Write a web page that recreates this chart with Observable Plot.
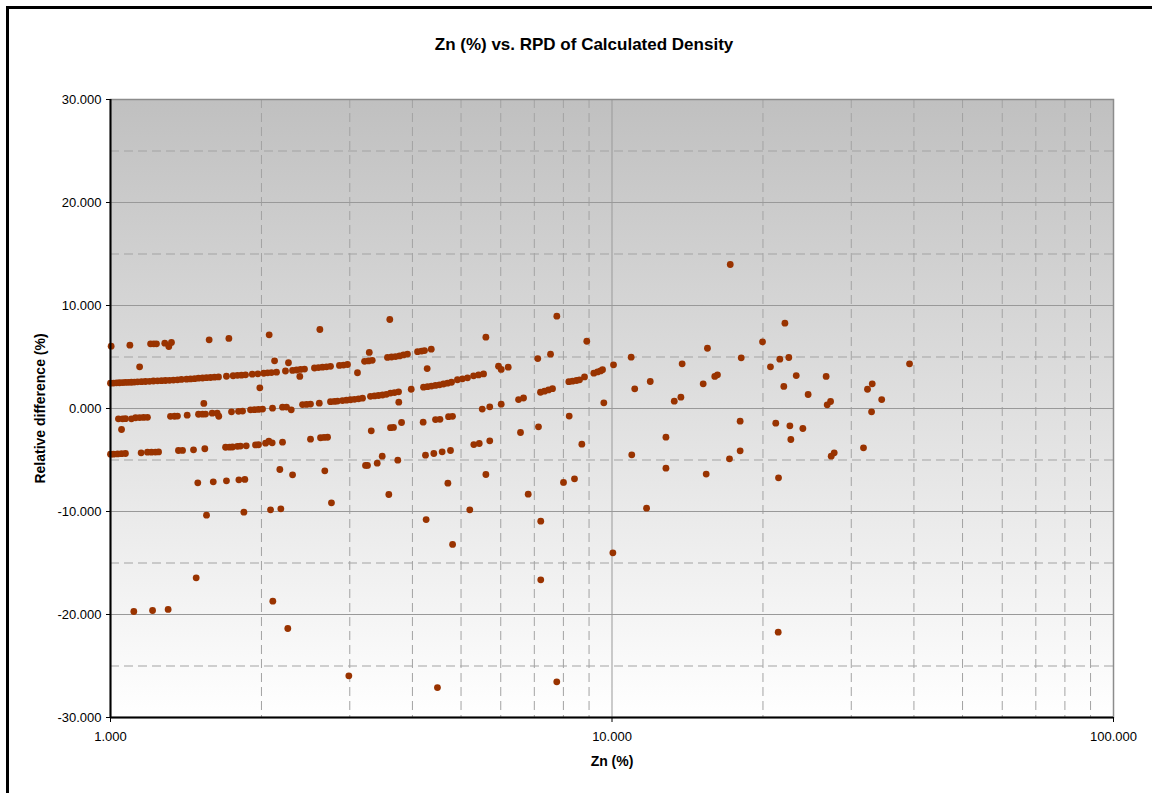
<!DOCTYPE html>
<html><head><meta charset="utf-8">
<script src="https://cdn.jsdelivr.net/npm/d3@7"></script>
<script src="https://cdn.jsdelivr.net/npm/@observablehq/plot@0.6"></script>
<style>
html,body{margin:0;padding:0;background:#fff;}
#wrap{position:relative;width:1152px;height:793px;overflow:hidden;background:#fff;}
#border{position:absolute;left:6px;top:6px;width:1250px;height:900px;border-left:3px solid #000;border-top:3px solid #000;}
#chart{position:absolute;left:0;top:0;}
</style></head><body>
<div id="wrap"><div id="border"></div><div id="chart"></div></div>
<script>
const titleText = "Zn (%) vs. RPD of Calculated Density";
const xLabel = "Zn (%)";
const yLabel = "Relative difference (%)";
const xTicks = [1, 10, 100];
const yTicks = [-30, -20, -10, 0, 10, 20, 30];
const xMinor = [2, 3, 4, 5, 6, 7, 8, 9, 20, 30, 40, 50, 60, 70, 80, 90];
const yMinor = [-25, -15, -5, 5, 15, 25];
const yMajorGrid = [-20, -10, 0, 10, 20];
const xMajorGrid = [10];

// [Zn %, RPD %]
const band1 = [[1.000,2.46],[1.014,2.47],[1.028,2.49],[1.042,2.50],[1.057,2.52],[1.071,2.53],[1.086,2.54],[1.101,2.55],[1.116,2.57],[1.132,2.59],[1.153,2.60],[1.174,2.62],[1.196,2.64],[1.218,2.67],[1.241,2.69],[1.264,2.70],[1.287,2.72],[1.311,2.74],[1.335,2.76],[1.360,2.78],[1.385,2.82],[1.418,2.85],[1.444,2.87],[1.471,2.90],[1.498,2.94],[1.526,2.96],[1.554,2.99],[1.583,3.01],[1.612,3.04],[1.642,3.07],[1.703,3.13],[1.756,3.18],[1.791,3.22],[1.825,3.24],[1.859,3.27],[1.917,3.33],[1.967,3.37],[2.021,3.42],[2.057,3.46],[2.094,3.49],[2.143,3.53],[2.233,3.64],[2.307,3.70],[2.350,3.74],[2.393,3.79],[2.437,3.83],[2.551,3.93],[2.598,3.97],[2.647,4.01],[2.696,4.05],[2.746,4.09],[2.861,4.18],[2.915,4.22],[2.969,4.27],[3.211,4.58],[3.270,4.62],[3.326,4.68],[3.567,4.96],[3.634,5.00],[3.701,5.04],[3.770,5.10],[3.839,5.20],[3.910,5.28],[4.095,5.52],[4.171,5.58],[4.228,5.62],[4.361,5.76]];

const band2 = [[1.037,-1.00],[1.057,-1.00],[1.071,-0.99],[1.101,-1.00],[1.122,-0.90],[1.143,-0.88],[1.164,-0.87],[1.185,-0.86],[1.317,-0.76],[1.342,-0.75],[1.360,-0.74],[1.422,-0.65],[1.498,-0.56],[1.526,-0.55],[1.547,-0.54],[1.595,-0.45],[1.632,-0.45],[1.644,-0.75],[1.743,-0.32],[1.800,-0.27],[1.834,-0.25],[1.902,-0.13],[1.937,-0.11],[1.973,-0.09],[2.010,-0.06],[2.104,0.03],[2.203,0.13],[2.244,0.14],[2.293,-0.13],[2.415,0.38],[2.460,0.40],[2.505,0.43],[2.608,0.52],[2.746,0.66],[2.797,0.69],[2.836,0.72],[2.901,0.77],[2.955,0.81],[3.010,0.85],[3.066,0.89],[3.123,0.94],[3.181,1.00],[3.299,1.18],[3.361,1.22],[3.423,1.26],[3.487,1.31],[3.550,1.38],[3.617,1.50],[3.684,1.55],[3.753,1.62],[3.978,1.87],[4.209,2.07],[4.287,2.12],[4.366,2.18],[4.447,2.24],[4.529,2.30],[4.613,2.38],[4.699,2.46],[4.786,2.55],[4.918,2.79],[5.033,2.88],[5.151,2.98],[5.296,3.17],[5.419,3.26],[5.545,3.36],[5.939,4.11],[6.013,3.79],[6.209,4.01],[6.511,0.87],[6.662,1.02],[7.201,1.58],[7.335,1.68],[7.471,1.80],[7.610,1.92],[8.201,2.60],[8.341,2.65],[8.496,2.72],[8.614,2.78],[8.814,3.07],[9.199,3.43],[9.357,3.55],[9.487,3.65],[9.575,3.76],[10.07,4.24]];

const band3 = [[1.000,-4.43],[1.014,-4.43],[1.033,-4.41],[1.052,-4.39],[1.071,-4.37],[1.151,-4.30],[1.185,-4.24],[1.207,-4.24],[1.229,-4.23],[1.247,-4.22],[1.366,-4.08],[1.392,-4.07],[1.464,-4.01],[1.542,-3.91],[1.696,-3.76],[1.727,-3.75],[1.751,-3.74],[1.791,-3.67],[1.816,-3.65],[1.865,-3.62],[1.946,-3.54],[1.973,-3.52],[2.038,-3.37],[2.069,-3.17],[2.101,-3.33],[2.203,-3.27],[2.505,-2.98],[2.623,-2.84],[2.666,-2.81],[2.709,-2.79],[3.311,-2.17],[3.617,-1.86],[3.667,-1.84],[3.805,-1.36],[4.202,-1.33],[4.447,-1.08],[4.539,-1.05],[4.721,-0.79],[4.808,-0.76],[5.511,-0.06],[5.705,0.16],[6.013,0.42]];

const scatterLow = [[1.003,6.05],[1.093,6.15],[1.202,6.28],[1.220,6.28],[1.235,6.28],[1.283,6.34],[1.307,6.02],[1.323,6.41],[1.573,6.67],[1.722,6.80],[2.072,7.15],[2.615,7.67],[3.605,8.64],[1.143,4.05],[3.281,5.44],[2.124,4.63],[2.264,4.44],[1.985,2.01],[2.385,3.11],[3.108,3.47],[1.052,-2.04],[1.535,0.49],[5.604,6.92],[7.762,8.96],[8.907,6.53],[4.280,3.88],[3.757,0.61],[7.112,4.85],[7.541,5.27],[10.92,4.98],[11.10,1.91],[11.92,2.62],[13.31,0.71],[13.72,1.10],[13.80,4.34],[6.570,-2.33],[7.135,-1.78],[8.216,-0.74],[9.632,0.55],[3.482,-4.63],[3.740,-5.02],[4.247,-4.53],[4.413,-4.37],[4.585,-4.21],[4.764,-4.08],[5.302,-3.50],[5.436,-3.40],[5.705,-3.14],[8.707,-3.46],[10.95,-4.50],[12.81,-2.78],[12.81,-5.79],[1.493,-7.22],[1.603,-7.12],[1.703,-7.02],[1.803,-6.92],[1.853,-6.89],[2.176,-5.92],[2.307,-6.44],[2.675,-6.05],[3.225,-5.53],[3.254,-5.53],[3.403,-5.31],[3.589,-8.35],[2.758,-9.16],[4.707,-7.25],[5.604,-6.41],[6.806,-8.32],[8.004,-7.18],[8.418,-6.83]];

const scatterHigh = [[17.21,13.98],[22.12,8.28],[19.96,6.47],[15.50,5.85],[18.10,4.92],[21.61,4.79],[22.52,4.95],[20.70,4.05],[39.2,4.34],[16.03,3.11],[16.23,3.27],[15.20,2.40],[23.30,3.20],[26.73,3.11],[22.01,2.14],[24.61,1.36],[33.03,2.40],[32.32,1.87],[34.5,0.87],[32.93,-0.32],[27.28,0.68],[26.86,0.36],[18.01,-1.23],[21.21,-1.42],[22.63,-1.68],[24.02,-1.94],[22.73,-3.01],[18.01,-4.11],[17.15,-4.89],[15.41,-6.37],[21.48,-6.73],[27.74,-4.30],[27.36,-4.63],[31.73,-3.82]];

const outliers = [[1.113,-19.71],[1.213,-19.61],[1.303,-19.51],[1.482,-16.44],[1.554,-10.36],[1.845,-10.07],[2.085,-9.84],[2.186,-9.74],[2.107,-18.71],[2.257,-21.36],[4.26,-10.78],[4.81,-13.20],[5.205,-9.84],[2.987,-25.95],[4.487,-27.09],[7.21,-10.94],[7.21,-16.63],[7.76,-26.54],[10.04,-14.01],[11.72,-9.68],[21.45,-21.72]];

const points = [...band1, ...band2, ...band3, ...scatterLow, ...scatterHigh, ...outliers];
const fmt = d3.formatLocale({decimal: ".", thousands: ",", grouping: [3], currency: ["", ""], minus: "-"}).format(".3f");

const plot = Plot.plot({
  width: 1152, height: 793,
  marginLeft: 110, marginRight: 39, marginTop: 99, marginBottom: 76,
  style: {fontFamily: "'Liberation Sans', Arial, sans-serif", fontSize: "13px", background: "transparent", color: "#000", overflow: "visible"},
  x: {type: "log", domain: [1, 100]},
  y: {domain: [-30, 30]},
  marks: [
    Plot.frame({fill: "url(#bgGrad)", stroke: "none"}),
    Plot.ruleY(yMinor, {stroke: "#a3a3a3", strokeDasharray: "9,5", strokeWidth: 1}),
    Plot.ruleX(xMinor, {stroke: "#a3a3a3", strokeDasharray: "9,5", strokeWidth: 1}),
    Plot.ruleY(yMajorGrid, {stroke: "#999999", strokeWidth: 1}),
    Plot.ruleX(xMajorGrid, {stroke: "#999999", strokeWidth: 1}),
    Plot.frame({stroke: "#8c8c8c", strokeWidth: 1.5}),
    Plot.dot(points, {x: d => d[0], y: d => d[1], r: 3.4, fill: "#993300"}),
    Plot.ruleX([1], {stroke: "#000", strokeWidth: 2}),
    Plot.ruleY([-30], {stroke: "#000", strokeWidth: 2}),
    Plot.axisY({ticks: yTicks, tickFormat: fmt, tickSize: 4, tickPadding: 5, label: null, fontSize: 13}),
    Plot.axisX({ticks: xTicks, tickFormat: fmt, tickSize: 5, tickPadding: 9, label: null, fontSize: 13}),
    Plot.text([titleText], {text: d => d, frameAnchor: "top", dy: -55, dx: -28, lineAnchor: "middle", fontWeight: "bold", fontSize: 17}),
    Plot.text([xLabel], {text: d => d, frameAnchor: "bottom", dy: 44, lineAnchor: "middle", fontWeight: "bold", fontSize: 14}),
    Plot.text([yLabel], {text: d => d, frameAnchor: "left", dx: -70, rotate: -90, textAnchor: "middle", lineAnchor: "middle", fontWeight: "bold", fontSize: 14})
  ]
});

const defs = d3.select(plot).insert("defs", ":first-child");
const g = defs.append("linearGradient").attr("id", "bgGrad").attr("x1", 0).attr("y1", 0).attr("x2", 0).attr("y2", 1);
g.append("stop").attr("offset", 0).attr("stop-color", "#c0c0c0");
g.append("stop").attr("offset", 1).attr("stop-color", "#ffffff");

document.getElementById("chart").appendChild(plot);
</script>
</body></html>
